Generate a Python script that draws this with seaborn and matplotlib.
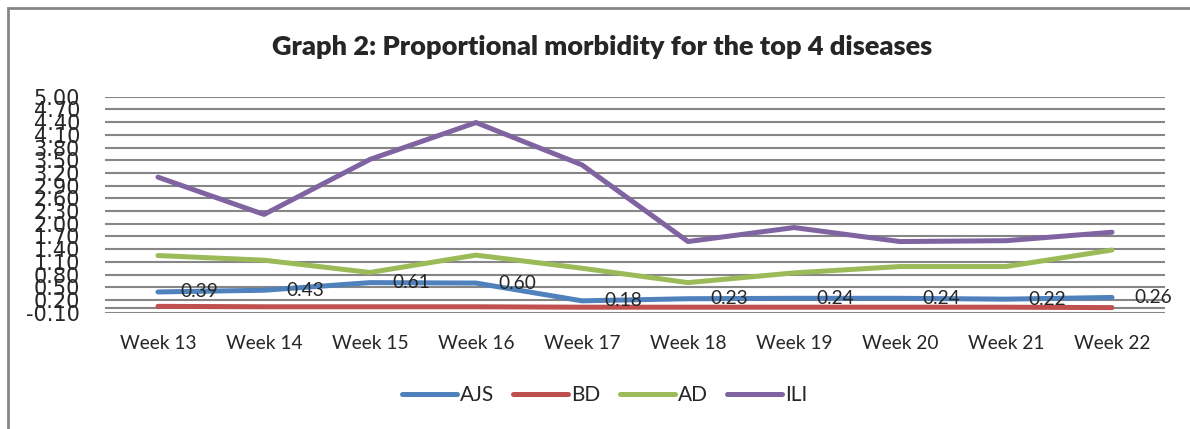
import matplotlib
matplotlib.use("Agg")
import matplotlib.pyplot as plt
from matplotlib.patches import Rectangle
import seaborn as sns
import pandas as pd
import numpy as np

# values
weeks = ["Week 13", "Week 14", "Week 15", "Week 16", "Week 17",
         "Week 18", "Week 19", "Week 20", "Week 21", "Week 22"]
ajs = [0.39, 0.43, 0.61, 0.60, 0.18, 0.23, 0.24, 0.24, 0.22, 0.26]
bd = [0.05, 0.04, 0.04, 0.04, 0.03, 0.03, 0.03, 0.03, 0.03, 0.02]
ad = [1.25, 1.14, 0.85, 1.26, 0.95, 0.61, 0.84, 0.99, 0.99, 1.38]
ili = [3.10, 2.22, 3.52, 4.39, 3.39, 1.58, 1.91, 1.58, 1.60, 1.80]
series_names = ["AJS", "BD", "AD", "ILI"]
colors = ["#4F81BD", "#C0504D", "#9BBB59", "#8064A2"]
y_ticks = np.round(np.arange(-0.10, 5.01, 0.30), 2)

df = pd.DataFrame({
    "week": weeks * 4,
    "pos": list(range(len(weeks))) * 4,
    "value": ajs + bd + ad + ili,
    "series": [s for s in series_names for _ in weeks],
})

sns.set_style("white")
plt.rcParams["font.family"] = ["Lato", "DejaVu Sans"]

fig = plt.figure(figsize=(11.9, 4.29), dpi=100)
ax = fig.add_axes([105 / 1190, 1 - 312.7 / 429, 1060 / 1190, 216 / 429])

sns.lineplot(data=df, x="pos", y="value", hue="series", hue_order=series_names,
             palette=colors, linewidth=3.6, ax=ax, legend=True,
             solid_capstyle="round")

# gridlines and axis at zero
ax.set_ylim(-0.1, 5.0)
ax.set_xlim(-0.5, len(weeks) - 0.5)
ax.set_yticks(y_ticks)
ax.set_yticklabels([f"{t:.2f}" for t in y_ticks], fontsize=15,
                   family="DejaVu Sans")
ax.set_xticks(range(len(weeks)))
ax.set_xticklabels(weeks, fontsize=13.8)
ax.yaxis.grid(True, color="#868686", linewidth=1.5)
ax.set_axisbelow(True)
ax.axhline(0, color="#868686", linewidth=1.5, zorder=0.5)
ax.tick_params(axis="y", length=0, pad=18)
ax.tick_params(axis="x", length=0, pad=16)
for s in ax.spines.values():
    s.set_visible(False)
ax.set_xlabel("")
ax.set_ylabel("")

# data labels for AJS
for i, v in enumerate(ajs):
    ax.annotate(f"{v:.2f}", (i, v), xytext=(16, 0), textcoords="offset points",
                ha="left", va="center", fontsize=13.8, annotation_clip=False)

handles, labels = ax.get_legend_handles_labels()
ax.legend_.remove()
fig.legend(handles, labels, loc="center", bbox_to_anchor=(0.508, 1 - 395 / 429),
           ncol=4, frameon=False, fontsize=15, handlelength=2.65,
           handletextpad=0.15, columnspacing=0.9)

fig.suptitle("Graph 2: Proportional morbidity for the top 4 diseases",
             x=602 / 1190, y=1 - 47 / 429, va="center", fontsize=19.5,
             fontweight="heavy")

fig.patches.append(Rectangle((7.5 / 1190, -0.1), 1.2, 1.1 - 8.5 / 429,
                             transform=fig.transFigure, fill=False,
                             edgecolor="#868686", linewidth=2))

fig.savefig("out.png", dpi=100)
